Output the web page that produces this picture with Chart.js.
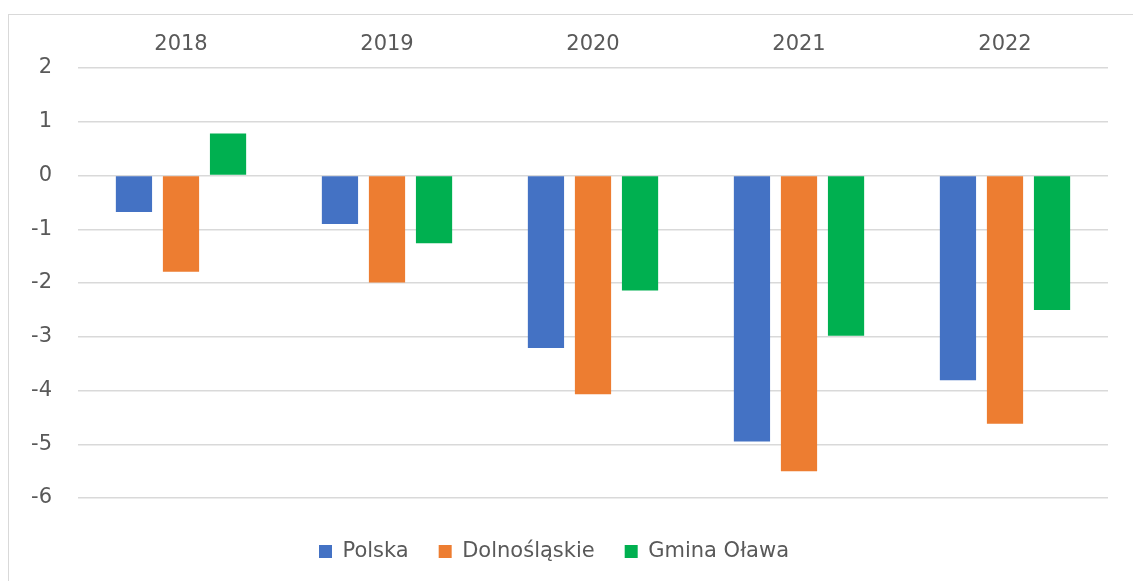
<!DOCTYPE html>
<html>
<head>
<meta charset="utf-8">
<script src="https://cdn.jsdelivr.net/npm/chart.js"></script>
<style>
  html, body { margin: 0; padding: 0; background: #fff; overflow: hidden; }
  #wrap { position: relative; width: 1133px; height: 581px; }
  #frame { position: absolute; left: 8px; top: 14px; width: 1200px; height: 700px; border: 1px solid #d9d9d9; }
  #chart { position: absolute; left: 0; top: 0; }
</style>
</head>
<body>
<div id="wrap">
  <div id="frame"></div>
  <canvas id="chart" width="1133" height="581"></canvas>
</div>
<script>
const years = ['2018', '2019', '2020', '2021', '2022'];
const polska = [-0.68, -0.9, -3.21, -4.95, -3.81];
const dolnoslaskie = [-1.79, -1.99, -4.07, -5.5, -4.62];
const gminaOlawa = [0.78, -1.26, -2.14, -2.98, -2.5];

const textColor = '#595959';
const font = { family: 'DejaVu Sans', size: 21 };

const ctx = document.getElementById('chart').getContext('2d');
new Chart(ctx, {
  type: 'bar',
  data: {
    labels: years,
    datasets: [
      { label: 'Polska', data: polska, backgroundColor: '#4472C4' },
      { label: 'Dolnośląskie', data: dolnoslaskie, backgroundColor: '#ED7D31' },
      { label: 'Gmina Oława', data: gminaOlawa, backgroundColor: '#00B050' }
    ]
  },
  options: {
    responsive: false,
    animation: false,
    devicePixelRatio: 1,
    categoryPercentage: 0.685,
    barPercentage: 0.77,
    layout: { padding: { left: 0, right: 25, top: 0, bottom: 9 } },
    plugins: {
      tooltip: { enabled: false },
      legend: {
        position: 'bottom',
        labels: { color: textColor, font: font, boxWidth: 13, boxHeight: 13, padding: 30 }
      }
    },
    scales: {
      x: {
        position: 'top',
        grid: { display: false },
        border: { display: false },
        ticks: { color: textColor, font: font, padding: 3 },
        afterFit(s) { s.height = 68; }
      },
      xb: {
        type: 'category',
        position: 'bottom',
        display: true,
        grid: { display: false },
        border: { display: false },
        ticks: { display: false },
        afterFit(s) { s.height = 13; }
      },
      y: {
        min: -6,
        max: 2,
        ticks: { stepSize: 1, color: textColor, font: font, padding: 26 },
        grid: { color: '#d9d9d9', lineWidth: 1.5, drawTicks: false },
        border: { display: false },
        afterFit(s) { s.width = 78; }
      }
    }
  }
});
</script>
</body>
</html>
